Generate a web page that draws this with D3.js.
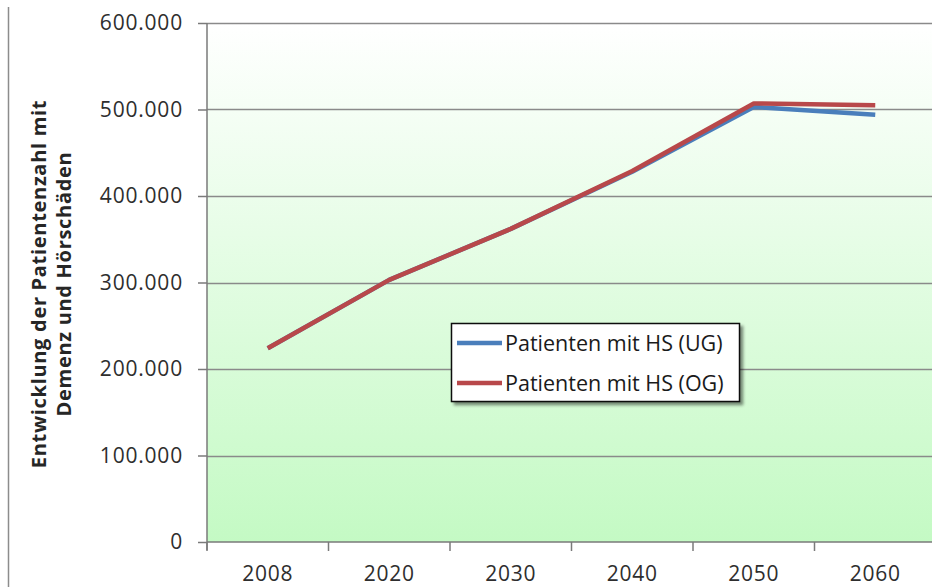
<!DOCTYPE html>
<html lang="de">
<head>
<meta charset="UTF-8">
<title>Patienten mit HS</title>
<script src="https://cdn.jsdelivr.net/npm/d3@7"></script>
<style>
  body { margin: 0; background: #fff; }
  svg { display: block; font-family: "Open Sans", sans-serif; }
</style>
</head>
<body>
<script>
  const width = 932
  const height = 587

  // Daten
  const years = ['2008', '2020', '2030', '2040', '2050', '2060']
  const patientenUG = [224000, 303000, 362000, 428000, 503000, 494000]
  const patientenOG = [224000, 303000, 362000, 429000, 507000, 505000]
  const yTicks = [0, 100000, 200000, 300000, 400000, 500000, 600000]
  const seriesNames = ['Patienten mit HS (UG)', 'Patienten mit HS (OG)']
  const seriesColors = ['#4a7ebb', '#b8484a']

  const plot = { left: 207, right: 936, top: 23, bottom: 542 }

  const svg = d3.select('body').append('svg')
    .attr('width', width)
    .attr('height', height)

  // Hintergrundverlauf
  const defs = svg.append('defs')
  const grad = defs.append('linearGradient')
    .attr('id', 'bg').attr('x1', 0).attr('y1', 0).attr('x2', 0).attr('y2', 1)
  grad.append('stop').attr('offset', '0%').attr('stop-color', '#ffffff')
  grad.append('stop').attr('offset', '100%').attr('stop-color', '#c4fac4')

  const shadow = defs.append('filter').attr('id', 'shadow')
  shadow.append('feDropShadow')
    .attr('dx', 3).attr('dy', 3).attr('stdDeviation', 1.5)
    .attr('flood-color', '#000').attr('flood-opacity', 0.45)

  // Rahmenlinie links
  svg.append('line')
    .attr('x1', 8.5).attr('x2', 8.5).attr('y1', 7).attr('y2', height)
    .attr('stroke', '#8c8c8c').attr('stroke-width', 1.5)

  const x = d3.scaleBand().domain(years).range([plot.left, plot.right])
  const y = d3.scaleLinear().domain([0, 600000]).range([plot.bottom, plot.top])

  svg.append('rect')
    .attr('x', plot.left).attr('y', plot.top)
    .attr('width', plot.right - plot.left).attr('height', plot.bottom - plot.top)
    .attr('fill', 'url(#bg)')

  // Gitterlinien
  svg.append('g')
    .selectAll('line')
    .data(yTicks.slice(1))
    .join('line')
    .attr('x1', plot.left).attr('x2', plot.right)
    .attr('y1', d => Math.round(y(d)) + 0.5).attr('y2', d => Math.round(y(d)) + 0.5)
    .attr('stroke', '#8a8a8a').attr('stroke-width', 1.5)

  const de = d3.formatLocale({ decimal: ',', thousands: '.', grouping: [3], currency: ['', ''] })

  // y-Achse
  const yAxis = svg.append('g')
    .attr('transform', `translate(${plot.left},0)`)
    .call(d3.axisLeft(y).tickValues(yTicks).tickFormat(de.format(',')).tickSize(9).tickPadding(15))
  yAxis.select('.domain').attr('d', `M0,${plot.top}V${plot.bottom + 8}`)
  yAxis.selectAll('line, path').attr('stroke', '#7a7a7a').attr('stroke-width', 1.5)
  yAxis.selectAll('text')
    .attr('font-family', '"Open Sans", sans-serif')
    .attr('font-size', 21).attr('letter-spacing', 0.8)
    .attr('fill', '#2e2e2e')

  // x-Achse
  const xAxis = svg.append('g')
    .attr('transform', `translate(0,${plot.bottom})`)
    .call(d3.axisBottom(x).tickSize(0).tickPadding(24))
  xAxis.select('.domain').attr('d', `M${plot.left},0H${plot.right}`)
    .attr('stroke', '#7a7a7a').attr('stroke-width', 1.5)
  xAxis.selectAll('text')
    .attr('font-family', '"Open Sans", sans-serif')
    .attr('font-size', 21).attr('letter-spacing', 0.8)
    .attr('fill', '#2e2e2e')
  // Teilstriche zwischen den Kategorien
  xAxis.append('g')
    .selectAll('line')
    .data(years)
    .join('line')
    .attr('x1', d => x(d)).attr('x2', d => x(d))
    .attr('y1', 0).attr('y2', 9)
    .attr('stroke', '#7a7a7a').attr('stroke-width', 1.5)

  // Achsentitel
  const title = svg.append('text')
    .attr('transform', `translate(46,284) rotate(-90)`)
    .attr('text-anchor', 'middle')
    .attr('font-weight', 'bold')
    .attr('font-size', 20)
    .attr('letter-spacing', 0.7)
    .attr('fill', '#262626')
  title.append('tspan').attr('x', 0).attr('dy', 0).text('Entwicklung der Patientenzahl mit')
  title.append('tspan').attr('x', 0).attr('dy', 25).text('Demenz und Hörschäden')

  // Linien
  const line = d3.line()
    .x((d, i) => x(years[i]) + x.bandwidth() / 2)
    .y(d => y(d))

  svg.append('g')
    .selectAll('path')
    .data([patientenUG, patientenOG])
    .join('path')
    .attr('d', line)
    .attr('fill', 'none')
    .attr('stroke', (d, i) => seriesColors[i])
    .attr('stroke-width', 4.5)
    .attr('stroke-linejoin', 'round')

  // Legende
  const legend = svg.append('g').attr('transform', 'translate(451,323)')
  legend.append('rect')
    .attr('x', 0.5).attr('y', 0.5).attr('width', 288).attr('height', 78)
    .attr('fill', '#fff').attr('stroke', '#111').attr('stroke-width', 1.5)
    .attr('filter', 'url(#shadow)')
  const items = legend.selectAll('g.item')
    .data(seriesNames)
    .join('g')
    .attr('class', 'item')
    .attr('transform', (d, i) => `translate(0,${20 + i * 40})`)
  items.append('line')
    .attr('x1', 6).attr('x2', 51).attr('y1', 0).attr('y2', 0)
    .attr('stroke', (d, i) => seriesColors[i]).attr('stroke-width', 4.5)
  items.append('text')
    .attr('x', 54).attr('y', 0).attr('dy', '0.35em')
    .attr('font-size', 21.5)
    .attr('fill', '#1a1a1a')
    .text(d => d)
</script>
</body>
</html>
